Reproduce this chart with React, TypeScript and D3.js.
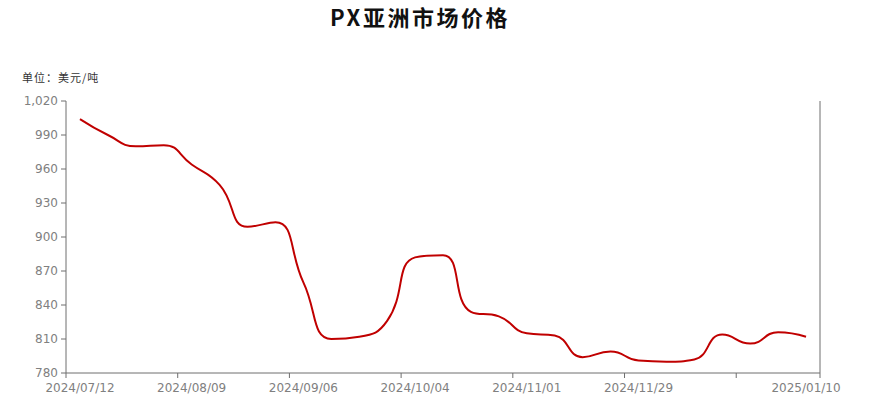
import React, { useRef, useEffect } from 'react';
import * as d3 from 'd3';

// weekly dates on the category axis
const dates = [
	'2024/07/12', '2024/07/19', '2024/07/26', '2024/08/02', '2024/08/09', '2024/08/16', '2024/08/23',
	'2024/08/30', '2024/09/06', '2024/09/13', '2024/09/20', '2024/09/27', '2024/10/04', '2024/10/11',
	'2024/10/18', '2024/10/25', '2024/11/01', '2024/11/08', '2024/11/15', '2024/11/22', '2024/11/29',
	'2024/12/06', '2024/12/13', '2024/12/20', '2024/12/27', '2025/01/03', '2025/01/10',
];
// PX price, USD/t
const prices = [
	1004, 990, 980, 981, 964, 946, 909, 913, 860, 810, 812, 826, 882, 884,
	834, 830, 815, 813, 794, 799, 791, 790, 792, 814, 806, 816, 812,
];
const yTicks = [780, 810, 840, 870, 900, 930, 960, 990, 1020];
const labelEvery = 4;

const W = 872;
const H = 407;
const margin = { top: 101, right: 52, bottom: 34, left: 66 };
const axisColor = '#6e6e6e';
const textColor = '#808080';
const lineColor = '#c00000';

// echarts-like smoothed bezier through pixel points
function smoothPath(pts: [number, number][], smooth = 0.5): string {
	let s = '';
	let cpx0 = 0, cpy0 = 0;
	for (let i = 0; i < pts.length; i++) {
		const [x, y] = pts[i];
		if (i === 0) {
			s += `M${x},${y}`;
			cpx0 = x; cpy0 = y;
			continue;
		}
		const [prevX, prevY] = pts[i - 1];
		let cpx1 = x, cpy1 = y, nx0 = x, ny0 = y;
		if (i < pts.length - 1) {
			const [nextX, nextY] = pts[i + 1];
			let vx = nextX - prevX;
			let vy = nextY - prevY;
			const lenPrev = Math.hypot(x - prevX, y - prevY);
			const lenNext = Math.hypot(nextX - x, nextY - y);
			const r = lenNext / (lenNext + lenPrev);
			nx0 = x + vx * smooth * r;
			ny0 = y + vy * smooth * r;
			nx0 = Math.max(Math.min(nx0, Math.max(nextX, x)), Math.min(nextX, x));
			ny0 = Math.max(Math.min(ny0, Math.max(nextY, y)), Math.min(nextY, y));
			vx = nx0 - x; vy = ny0 - y;
			cpx1 = x - vx * lenPrev / lenNext;
			cpy1 = y - vy * lenPrev / lenNext;
			cpx1 = Math.max(Math.min(cpx1, Math.max(prevX, x)), Math.min(prevX, x));
			cpy1 = Math.max(Math.min(cpy1, Math.max(prevY, y)), Math.min(prevY, y));
			vx = x - cpx1; vy = y - cpy1;
			nx0 = x + vx * lenNext / lenPrev;
			ny0 = y + vy * lenNext / lenPrev;
		}
		s += `C${cpx0},${cpy0},${cpx1},${cpy1},${x},${y}`;
		cpx0 = nx0; cpy0 = ny0;
	}
	return s;
}

const PriceChart: React.FC = () => {
	const svgRef = useRef<SVGSVGElement | null>(null);

	useEffect(() => {
		if (!svgRef.current) return;
		const svg = d3.select(svgRef.current);
		svg.selectAll('*').remove();

		const x = d3.scaleBand<string>()
			.domain(dates)
			.range([margin.left, W - margin.right])
			.paddingInner(0)
			.paddingOuter(0);
		const y = d3.scaleLinear()
			.domain([780, 1020])
			.range([H - margin.bottom, margin.top]);
		const bw = x.bandwidth();
		const x0 = margin.left, x1 = W - margin.right;
		const yb = H - margin.bottom;

		// title
		svg.append('text')
			.attr('x', 420)
			.attr('y', 26)
			.attr('text-anchor', 'middle')
			.attr('font-family', '"Noto Sans CJK SC", "DejaVu Sans", sans-serif')
			.attr('font-size', 22)
			.attr('font-weight', 'bold')
			.attr('letter-spacing', 2.5)
			.attr('fill', '#111')
			.text('PX亚洲市场价格');

		// unit
		svg.append('text')
			.attr('x', 22)
			.attr('y', 82)
			.attr('font-family', '"Noto Sans CJK SC", sans-serif')
			.attr('font-size', 11)
			.attr('letter-spacing', 1)
			.attr('fill', '#333')
			.text('单位：美元/吨');

		// y axis (left)
		svg.append('line')
			.attr('x1', x0).attr('x2', x0)
			.attr('y1', y(1020)).attr('y2', yb)
			.attr('stroke', axisColor);
		const yg = svg.append('g');
		yTicks.forEach(t => {
			yg.append('line')
				.attr('x1', x0 - 5).attr('x2', x0)
				.attr('y1', y(t)).attr('y2', y(t))
				.attr('stroke', axisColor);
			yg.append('text')
				.attr('x', x0 - 8)
				.attr('y', y(t))
				.attr('dy', '0.35em')
				.attr('text-anchor', 'end')
				.attr('font-family', '"DejaVu Sans", sans-serif')
				.attr('font-size', 12)
				.attr('fill', textColor)
				.text(d3.format(',')(t));
		});

		// right axis line
		svg.append('line')
			.attr('x1', x1).attr('x2', x1)
			.attr('y1', y(1020)).attr('y2', yb + 5)
			.attr('stroke', axisColor);

		// x axis
		svg.append('line')
			.attr('x1', x0).attr('x2', x1)
			.attr('y1', yb).attr('y2', yb)
			.attr('stroke', axisColor);
		const xg = svg.append('g');
		dates.forEach((d, i) => {
			if (i % labelEvery !== 0) return;
			xg.append('line')
				.attr('x1', x(d)!).attr('x2', x(d)!)
				.attr('y1', yb).attr('y2', yb + 5)
				.attr('stroke', axisColor);
		});
		const last = dates.length - 1;
		dates.forEach((d, i) => {
			const show = (i % labelEvery === 0 && last - i >= labelEvery) || i === last;
			if (!show) return;
			xg.append('text')
				.attr('x', x(d)! + bw / 2)
				.attr('y', yb + 19)
				.attr('text-anchor', 'middle')
				.attr('font-family', '"DejaVu Sans", sans-serif')
				.attr('font-size', 12)
				.attr('fill', textColor)
				.text(d);
		});

		// price line
		const pts: [number, number][] = dates.map((d, i) => [x(d)! + bw / 2, y(prices[i])]);
		svg.append('path')
			.attr('d', smoothPath(pts))
			.attr('fill', 'none')
			.attr('stroke', lineColor)
			.attr('stroke-width', 2)
			.attr('stroke-linejoin', 'round');

		return () => {
			svg.selectAll('*').remove();
		};
	}, []);

	return (
		<svg ref={svgRef} width={W} height={H}
			style={{ position: 'absolute', left: 0, top: 0, background: '#fff' }} />
	);
};

export default function App() {
	return <PriceChart />;
}
